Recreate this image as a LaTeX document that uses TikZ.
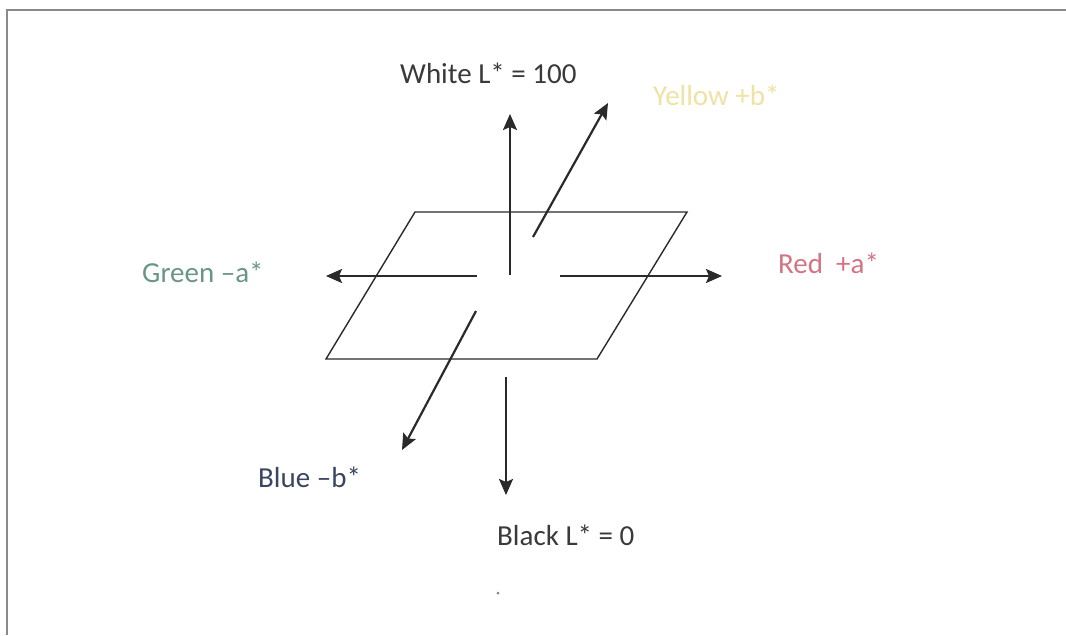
\documentclass[tikz,border=0pt]{standalone}
\usepackage{fontspec}
\setmainfont{Carlito}
\usetikzlibrary{arrows.meta}
\definecolor{axisgray}{HTML}{2A2A2A}
\definecolor{framegray}{HTML}{8A8A8A}
\definecolor{whitetxt}{HTML}{3A3A3A}
\definecolor{yellowtxt}{HTML}{EFE2A2}
\definecolor{greentxt}{HTML}{6A9688}
\definecolor{redtxt}{HTML}{D27484}
\definecolor{bluetxt}{HTML}{3A4660}
\tikzset{
  axisarrow/.style={draw=axisgray, line width=2.2pt, -{Stealth[length=16pt,width=14pt,inset=3pt]}},
  plane/.style={draw=axisgray, line width=1.4pt, line join=miter},
  lbl/.style={anchor=base west, inner sep=0pt, font=\fontsize{29}{35}\selectfont},
  framepen/.style={draw=framegray, line width=1.2pt}
}
\begin{document}
\begin{tikzpicture}[x=1pt,y=-1pt]
\useasboundingbox[fill=white] (0,0) rectangle (1066,635);
% frame
\coordinate (fTL) at (7,10);
\coordinate (fTR) at (1066,10);
\coordinate (fBL) at (7,635);
\draw[framepen] (fTR) -- (fTL) -- (fBL);
% plane
\coordinate (pTL) at (415,212);
\coordinate (pTR) at (687,212);
\coordinate (pBR) at (597,359);
\coordinate (pBL) at (326,359);
\draw[plane] (pTL) -- (pTR) -- (pBR) -- (pBL) -- cycle;
% axes endpoints
\coordinate (upS) at (510,275);
\coordinate (upE) at (510,114);
\coordinate (dnS) at (506,377);
\coordinate (dnE) at (506,495);
\coordinate (lfS) at (477,276);
\coordinate (lfE) at (326,276);
\coordinate (rtS) at (560,276);
\coordinate (rtE) at (722,276);
\coordinate (ylS) at (533,237);
\coordinate (ylE) at (608,103);
\coordinate (blS) at (476,311);
\coordinate (blE) at (402,450);
\draw[axisarrow] (upS) -- (upE);
\draw[axisarrow] (dnS) -- (dnE);
\draw[axisarrow] (lfS) -- (lfE);
\draw[axisarrow] (rtS) -- (rtE);
\draw[axisarrow] (ylS) -- (ylE);
\draw[axisarrow] (blS) -- (blE);
% labels
\node[lbl, text=whitetxt] (white) at (400,83) {White L* = 100};
\node[lbl, text=yellowtxt] (yellow) at (653,105) {Yellow +b*};
\node[lbl, text=greentxt] (green) at (142,282) {Green –a*};
\node[lbl, text=redtxt] (red) at (778,273) {Red\ \ +a*};
\node[lbl, text=bluetxt] (blue) at (258,487) {Blue –b*};
\node[lbl, text=whitetxt] (black) at (497,545) {Black L* = 0};
\node[circle, fill=gray, inner sep=0pt, minimum size=3pt] (dot) at (498,593) {};
\end{tikzpicture}
\end{document}
